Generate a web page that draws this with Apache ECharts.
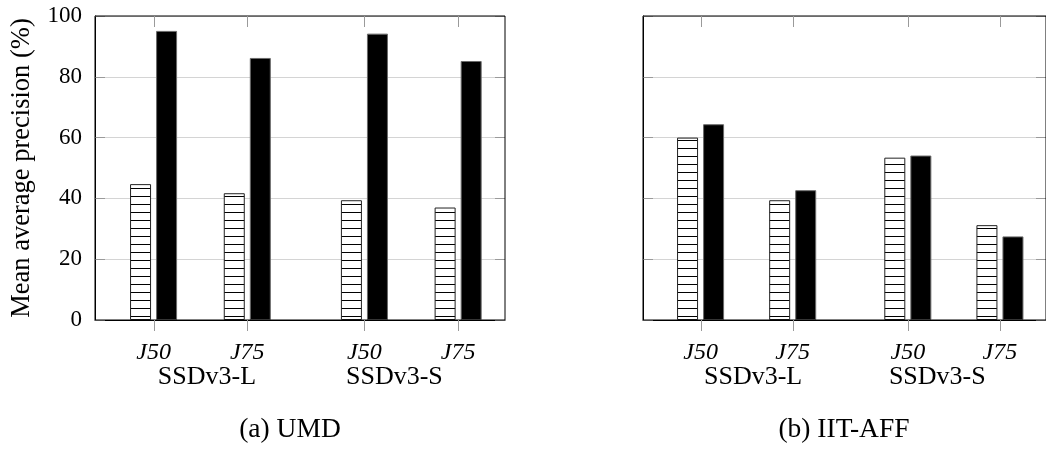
<!DOCTYPE html>
<html>
<head>
<meta charset="utf-8">
<script src="https://cdn.jsdelivr.net/npm/echarts@6/dist/echarts.min.js"></script>
<style>
  html, body { margin: 0; padding: 0; background: #fff; }
  #chart { width: 1046px; height: 451px; }
</style>
</head>
<body>
<div id="chart"></div>
<script>
// Detector / IoU threshold layout along the x axis
const tickPositions = [1, 2, 3.25, 4.25];
const tickLabels = ['J50', 'J75', 'J50', 'J75'];
const groupPositions = [1.57, 3.57];
const groupLabels = ['SSDv3-L', 'SSDv3-S'];

// Mean average precision (%) — UMD
const umdHatched = [44.7, 41.7, 39.4, 37.0];
const umdSolid = [95.1, 86.2, 94.2, 85.2];

// Mean average precision (%) — IIT-AFF
const iitHatched = [60.0, 39.4, 53.4, 31.2];
const iitSolid = [64.4, 42.7, 54.1, 27.5];

const yTicks = [0, 20, 40, 60, 80, 100];
const captions = ['(a) UMD', '(b) IIT-AFF'];
const yTitle = 'Mean average precision (%)';

const FONT = '"Liberation Serif", "DejaVu Serif", serif';

// horizontal-lines fill
function hatchPattern() {
  const c = document.createElement('canvas');
  c.width = 8; c.height = 8;
  const g = c.getContext('2d');
  g.fillStyle = '#fff';
  g.fillRect(0, 0, 8, 8);
  g.fillStyle = '#000';
  g.fillRect(0, 4, 8, 1);
  return c;
}
const hatch = { image: hatchPattern(), repeat: 'repeat' };

function pairs(values) {
  return values.map((v, i) => [tickPositions[i], v]);
}

const X_MIN = 0.375, X_MAX = 4.75;
const tickGray = '#9a9a9a';
const TICK_LEN = 11;

function xAxesFor(gridIndex) {
  return [
    {
      gridIndex, type: 'value', position: 'bottom', min: X_MIN, max: X_MAX,
      axisLine: { show: true, lineStyle: { color: '#000', width: 1 } },
      axisTick: { show: false },
      axisLabel: { show: true, customValues: tickPositions, margin: 21,
                   formatter: v => tickLabels[tickPositions.indexOf(v)] || '',
                   fontFamily: FONT, fontSize: 24, fontStyle: 'italic', color: '#000' },
      splitLine: { show: false }
    },
    {
      gridIndex, type: 'value', position: 'bottom', min: X_MIN, max: X_MAX,
      axisLine: { show: false }, axisTick: { show: false }, splitLine: { show: false },
      axisLabel: { show: true, customValues: groupPositions, margin: 44,
                   formatter: v => groupLabels[groupPositions.indexOf(v)] || '',
                   fontFamily: FONT, fontSize: 26, color: '#000' }
    }
  ];
}

function yAxesFor(gridIndex, withLabels) {
  return [
    {
      gridIndex, type: 'value', position: 'left', min: 0, max: 100, interval: 20,
      axisLine: { show: true, lineStyle: { color: '#000', width: 1 } },
      axisTick: { show: true, inside: true, length: 10, lineStyle: { color: tickGray } },
      axisLabel: { show: withLabels, fontFamily: FONT, fontSize: 23, color: '#000', margin: 13,
                   formatter: v => (yTicks.indexOf(v) >= 0 ? String(v) : '') },
      splitLine: { show: true, lineStyle: { color: '#d4d4d4', width: 1 } },
      name: withLabels ? yTitle : '',
      nameLocation: 'middle', nameGap: 59, nameRotate: 90,
      nameTextStyle: { fontFamily: FONT, fontSize: 26.5, color: '#000' }
    },
    {
      gridIndex, type: 'value', position: 'right', min: 0, max: 100, interval: 20,
      axisLine: { show: false },
      axisTick: { show: true, inside: true, length: 10, lineStyle: { color: tickGray } },
      axisLabel: { show: false }, splitLine: { show: false }
    }
  ];
}

function barSeries(xAxisIndex, yAxisIndex, values, solid) {
  return {
    type: 'bar', xAxisIndex, yAxisIndex, data: pairs(values),
    barWidth: 21, barGap: '24%', z: 3,
    itemStyle: solid
      ? { color: '#000', borderColor: '#6a6a6a', borderWidth: 1 }
      : { color: hatch, borderColor: '#222', borderWidth: 1 },
    emphasis: { disabled: true }
  };
}

// x-axis tick marks: outward below the plot, inward from the top frame
function tickSeries(xAxisIndex, yAxisIndex) {
  return {
    type: 'custom', xAxisIndex, yAxisIndex, clip: false, z: 6, silent: true,
    data: tickPositions.map(p => [p]),
    encode: { x: 0 },
    renderItem: (params, api) => {
      const bottom = api.coord([api.value(0), 0]);
      const top = api.coord([api.value(0), 100]);
      const x = Math.round(bottom[0]) + 0.5;
      const style = { stroke: tickGray, lineWidth: 1 };
      return {
        type: 'group',
        children: [
          { type: 'line', shape: { x1: x, y1: bottom[1], x2: x, y2: bottom[1] + TICK_LEN }, style },
          { type: 'line', shape: { x1: x, y1: top[1], x2: x, y2: top[1] + TICK_LEN }, style }
        ]
      };
    }
  };
}

const chart = echarts.init(document.getElementById('chart'), null, { renderer: 'canvas' });

chart.setOption({
  animation: false,
  backgroundColor: '#fff',
  grid: [
    { left: 95, right: 541, top: 16, bottom: 131, show: true, borderColor: '#000', borderWidth: 1, z: 5 },
    { left: 643, right: -5, top: 16, bottom: 131, show: true, borderColor: '#000', borderWidth: 1, z: 5 }
  ],
  xAxis: [...xAxesFor(0), ...xAxesFor(1)],
  yAxis: [...yAxesFor(0, true), ...yAxesFor(1, false)],
  series: [
    barSeries(0, 0, umdHatched, false),
    barSeries(0, 0, umdSolid, true),
    barSeries(2, 2, iitHatched, false),
    barSeries(2, 2, iitSolid, true),
    tickSeries(0, 0),
    tickSeries(2, 2)
  ],
  graphic: [
    { type: 'text', x: 290, y: 416, z: 10,
      style: { text: captions[0], x: 0, y: 0, font: '27.5px ' + FONT, fill: '#000',
               align: 'center', verticalAlign: 'top' } },
    { type: 'text', x: 844, y: 416, z: 10,
      style: { text: captions[1], x: 0, y: 0, font: '27.5px ' + FONT, fill: '#000',
               align: 'center', verticalAlign: 'top' } }
  ]
});
</script>
</body>
</html>
